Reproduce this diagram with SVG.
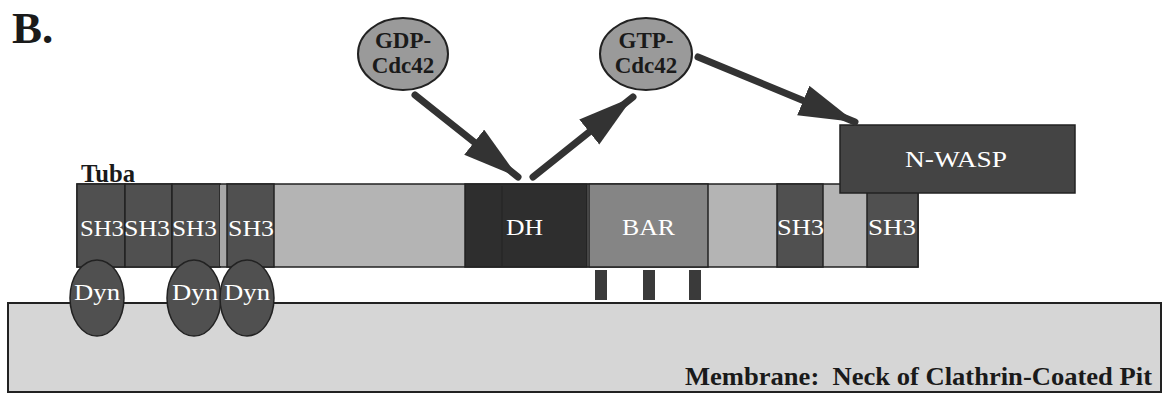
<svg xmlns="http://www.w3.org/2000/svg" width="1164" height="396" viewBox="0 0 1164 396">
<style>
.dom{stroke:#222;stroke-width:1.5}
.sh3{fill:#505050}
.lt{fill:#b4b4b4}
.wt{font-family:"Liberation Serif",serif;font-size:24px;fill:#fff}
.bt{font-family:"Liberation Serif",serif;font-weight:bold;fill:#1a1a1a}
.arr{stroke:#333;stroke-width:7;stroke-linecap:round;fill:none}
</style>
<defs>
<marker id="ah" markerUnits="userSpaceOnUse" markerWidth="60" markerHeight="34" refX="56" refY="16" orient="auto">
<path d="M0,0 L56,16 L0,32 z" fill="#333"/>
</marker>
</defs>
<rect width="1164" height="396" fill="#fff"/>
<text class="bt" x="12" y="43" font-size="45">B.</text>

<g id="membrane">
<rect x="8" y="303" width="1153" height="89" fill="#d6d6d6" stroke="#222" stroke-width="2"/>
<text class="bt" x="685" y="385" font-size="25" textLength="467" lengthAdjust="spacingAndGlyphs">Membrane:&#160; Neck of Clathrin-Coated Pit</text>
</g>

<g id="tuba">
<text class="bt" x="81" y="182" font-size="25" textLength="54" lengthAdjust="spacingAndGlyphs">Tuba</text>
<rect class="lt dom" x="77" y="184" width="841" height="83"/>
<rect class="sh3 dom" x="77" y="184" width="48" height="83"/>
<rect class="sh3 dom" x="125" y="184" width="47" height="83"/>
<rect class="sh3 dom" x="172" y="184" width="48" height="83"/>
<rect fill="#a8a8a8" x="220" y="185" width="7" height="81"/>
<rect class="sh3 dom" x="227" y="184" width="47" height="83"/>
<rect fill="#2e2e2e" class="dom" x="465" y="184" width="122" height="83"/>
<line x1="502" y1="186" x2="502" y2="266" stroke="#222" stroke-width="1"/>
<rect fill="#858585" class="dom" x="589" y="184" width="119" height="83"/>
<rect class="sh3 dom" x="777" y="184" width="46" height="83"/>
<rect class="sh3 dom" x="867" y="184" width="51" height="83"/>
<text class="wt" x="80" y="236" textLength="44" lengthAdjust="spacingAndGlyphs">SH3</text>
<text class="wt" x="124" y="236" textLength="46" lengthAdjust="spacingAndGlyphs">SH3</text>
<text class="wt" x="172" y="236" textLength="45" lengthAdjust="spacingAndGlyphs">SH3</text>
<text class="wt" x="228" y="236" textLength="46" lengthAdjust="spacingAndGlyphs">SH3</text>
<text class="wt" x="506" y="235" textLength="37" lengthAdjust="spacingAndGlyphs">DH</text>
<text class="wt" x="622" y="235" textLength="53" lengthAdjust="spacingAndGlyphs">BAR</text>
<text class="wt" x="777" y="235" textLength="47" lengthAdjust="spacingAndGlyphs">SH3</text>
<text class="wt" x="868" y="235" textLength="48" lengthAdjust="spacingAndGlyphs">SH3</text>
</g>

<g id="bar-contacts" fill="#3a3a3a">
<rect x="595" y="270" width="12" height="30"/>
<rect x="643" y="270" width="12" height="30"/>
<rect x="689" y="270" width="12" height="30"/>
</g>

<g id="dyn1">
<ellipse cx="97" cy="298" rx="27" ry="38" fill="#505050" stroke="#222" stroke-width="1.5"/>
<text class="wt" x="74" y="300" textLength="46" lengthAdjust="spacingAndGlyphs">Dyn</text>
</g>
<g id="dyn2">
<ellipse cx="194" cy="298" rx="27" ry="38" fill="#505050" stroke="#222" stroke-width="1.5"/>
<text class="wt" x="172" y="300" textLength="46" lengthAdjust="spacingAndGlyphs">Dyn</text>
</g>
<g id="dyn3">
<ellipse cx="247" cy="298" rx="27" ry="38" fill="#505050" stroke="#222" stroke-width="1.5"/>
<text class="wt" x="224" y="300" textLength="46" lengthAdjust="spacingAndGlyphs">Dyn</text>
</g>

<g id="nwasp">
<rect x="840" y="125" width="235" height="68" fill="#444" stroke="#222" stroke-width="1.5"/>
<text class="wt" x="905" y="167" textLength="102" lengthAdjust="spacingAndGlyphs">N-WASP</text>
</g>

<g id="gdp">
<ellipse cx="403" cy="54" rx="45" ry="36" fill="#9a9a9a" stroke="#222" stroke-width="2"/>
<text class="bt" x="403" y="48" font-size="23" text-anchor="middle">GDP-</text>
<text class="bt" x="403" y="73" font-size="23" text-anchor="middle">Cdc42</text>
</g>
<g id="gtp">
<ellipse cx="646" cy="54" rx="46" ry="36" fill="#9a9a9a" stroke="#222" stroke-width="2"/>
<text class="bt" x="646" y="48" font-size="23" text-anchor="middle">GTP-</text>
<text class="bt" x="646" y="73" font-size="23" text-anchor="middle">Cdc42</text>
</g>

<g id="connectors">
<line class="arr" x1="415" y1="95" x2="518" y2="177" marker-end="url(#ah)"/>
<line class="arr" x1="533" y1="177" x2="633" y2="97" marker-end="url(#ah)"/>
<line class="arr" x1="698" y1="57" x2="855" y2="122" marker-end="url(#ah)"/>
</g>
</svg>
